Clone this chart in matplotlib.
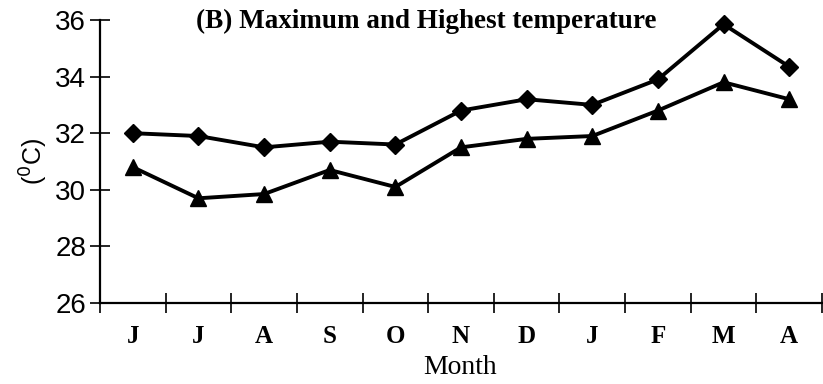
import matplotlib.pyplot as plt

months = ["J", "J", "A", "S", "O", "N", "D", "J", "F", "M", "A"]
max_temp = [32.0, 31.9, 31.5, 31.7, 31.6, 32.8, 33.2, 33.0, 33.9, 35.85, 34.35]
high_temp = [30.8, 29.7, 29.85, 30.7, 30.1, 31.5, 31.8, 31.9, 32.8, 33.8, 33.2]
y_ticks = [26, 28, 30, 32, 34, 36]

fig = plt.figure(figsize=(8.23, 3.84), dpi=100)
ax = fig.add_axes([100 / 823, 1 - 303 / 384, 722 / 823, 283 / 384])

x = [i + 0.5 for i in range(len(months))]
ax.plot(x, max_temp, color="black", linewidth=2.8, marker="D", markersize=9, clip_on=False)
ax.plot(x, high_temp, color="black", linewidth=2.8, marker="^", markersize=11, clip_on=False)

ax.set_xlim(0, len(months))
ax.set_ylim(26, 36)

# ticks at category boundaries, labels centred
ax.set_xticks(range(len(months) + 1))
ax.set_xticklabels([])
ax.set_xticks(x, minor=True)
ax.set_xticklabels(months, minor=True, family="Liberation Serif", fontweight="bold", fontsize=18)
ax.tick_params(axis="x", which="minor", length=0, pad=16)
ax.tick_params(axis="x", which="major", direction="inout", length=14, width=1.2)

ax.set_yticks(y_ticks)
ax.set_yticklabels([str(v) for v in y_ticks], family="Liberation Sans", fontsize=20)
ax.tick_params(axis="y", direction="inout", length=14, width=1.2, pad=3)

for side in ["top", "right"]:
    ax.spines[side].set_visible(False)
for side in ["left", "bottom"]:
    ax.spines[side].set_linewidth(1.6)

ax.set_ylabel("($^{0}$C)", family="Liberation Sans", fontsize=18, labelpad=4)
fig.text(460 / 823, 1 - 368 / 384, "Month", family="Liberation Serif", fontsize=20,
         ha="center", va="center")
fig.text(426 / 823, 1 - 21 / 384, "(B) Maximum and Highest temperature",
         family="Liberation Serif", fontweight="bold", fontsize=19.5, ha="center", va="center")

fig.savefig("out.png", dpi=100)
